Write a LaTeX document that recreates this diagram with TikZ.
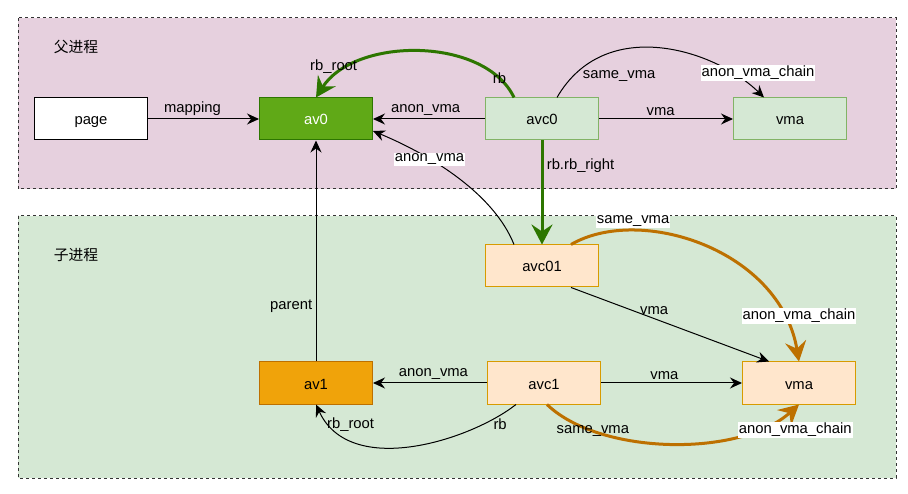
\documentclass[tikz,border=0pt]{standalone}
\usepackage{fontspec}
\setmainfont{Liberation Sans}
\newfontfamily\cjk{Noto Sans CJK SC}
\usetikzlibrary{arrows.meta,positioning,calc}
\definecolor{parentbg}{RGB}{230,208,222}
\definecolor{childbg}{RGB}{213,232,212}
\definecolor{lightgreen}{RGB}{213,232,212}
\definecolor{greenline}{RGB}{130,179,102}
\definecolor{avgreen}{RGB}{96,169,23}
\definecolor{darkgreen}{RGB}{45,118,0}
\definecolor{lightorange}{RGB}{255,230,204}
\definecolor{orangeline}{RGB}{215,155,0}
\definecolor{avorange}{RGB}{240,163,10}
\definecolor{darkorange}{RGB}{189,112,0}
\newcommand{\procframe}[3]{\filldraw[fill=#1,draw=black!80,line width=1pt,dash pattern=on 3pt off 3pt] #2 rectangle #3;}

\begin{document}
\begin{tikzpicture}[x=1pt,y=-1pt,
	every node/.style={font=\fontsize{14.8}{17}\selectfont},
	blk/.style={minimum width=113pt,minimum height=42pt,inner sep=0pt,line width=1pt,text height=13pt,text depth=1pt},
	ln/.style={line width=1pt,-{Stealth[length=12pt,width=11pt,inset=4pt]}},
	greenln/.style={line width=3pt,draw=darkgreen,-{Stealth[length=20pt,width=21pt,inset=7pt]}},
	orangeln/.style={line width=3pt,draw=darkorange,-{Stealth[length=20pt,width=21pt,inset=7pt]}},
	wlbl/.style={fill=white,inner sep=1pt}]
		\useasboundingbox (0,0) rectangle (908,494);
		\procframe{parentbg}{(18,18)}{(896,189)}
		\procframe{childbg}{(18,216)}{(896,478)}
		\node (ptitle) at (76,47) {\cjk 父进程};
		\node (ctitle) at (76,255) {\cjk 子进程};
		\node[blk,fill=white,draw=black] (page) at (91,119) {page};
		\node[blk,fill=avgreen,draw=darkgreen,text=white] (av0) at (316,119) {av0};
		\node[blk,fill=lightgreen,draw=greenline] (avc0) at (542,119) {avc0};
		\node[blk,fill=lightgreen,draw=greenline] (vmat) at (790,119) {vma};
		\node[blk,fill=lightorange,draw=orangeline] (avc01) at (542,266) {avc01};
		\node[blk,fill=avorange,draw=darkorange] (av1) at (316,383) {av1};
		\node[blk,fill=lightorange,draw=orangeline] (avc1) at (544,383) {avc1};
		\node[blk,fill=lightorange,draw=orangeline] (vmab) at (799,383) {vma};
		\draw[ln] (page) -- node[pos=0.4,above] {mapping} (av0);
		\draw[ln] (avc0) -- node[pos=0.53,above] {anon\_vma} (av0);
		\draw[ln] (avc0) -- node[pos=0.46,above] {vma} (vmat);
		\draw[greenln] ([xshift=-28pt]avc0.north) .. controls +(-29,-61) and +(39,-61) .. node[pos=0.12] {rb} node[pos=0.88,above] {rb\_root} (av0.north);
		\draw[ln] ([xshift=15pt]avc0.north) .. controls +(48,-83) and +(-49,-48) .. node[pos=0.1,anchor=west,xshift=6pt] {same\_vma} node[wlbl,pos=0.88,xshift=14pt,yshift=8pt] {anon\_vma\_chain} ([xshift=-26pt]vmat.north);
		\draw[greenln] (avc0) -- node[pos=0.24,right] {rb.rb\_right} (avc01);
		\draw[ln] ([xshift=-28pt]avc01.north) .. controls +(-20,-50) and +(60,25) .. node[wlbl,pos=0.68] {anon\_vma} ([yshift=-12pt]av0.east);
		\draw[orangeln] ([xshift=29pt]avc01.north) .. controls +(69,-40) and +(-19,-112) .. node[wlbl,pos=0.25,yshift=9pt] {same\_vma} node[wlbl,pos=0.85,xshift=16pt] {anon\_vma\_chain} (vmab.north);
		\draw[ln] ([xshift=29pt]avc01.south) -- node[pos=0.42,above] {vma} ([xshift=-30pt]vmab.north);
		\draw[ln] (avc1) -- node[pos=0.45,above] {vma} (vmab);
		\draw[ln] (avc1) -- node[pos=0.47,above] {anon\_vma} (av1);
		\draw[ln] (av1) -- node[pos=0.25,left] {parent} (av0);
		\draw[ln] ([xshift=-28pt]avc1.south) .. controls +(-46,36) and +(34,74) .. node[pos=0.1,below] {rb} node[pos=0.85,xshift=14pt,yshift=6pt] {rb\_root} (av1.south);
		\draw[orangeln] ([xshift=3pt]avc1.south) .. controls +(53,51) and +(-59,53) .. node[pos=0.22] {same\_vma} node[wlbl,pos=0.8,xshift=40pt] {anon\_vma\_chain} (vmab.south);
\end{tikzpicture}
\end{document}
